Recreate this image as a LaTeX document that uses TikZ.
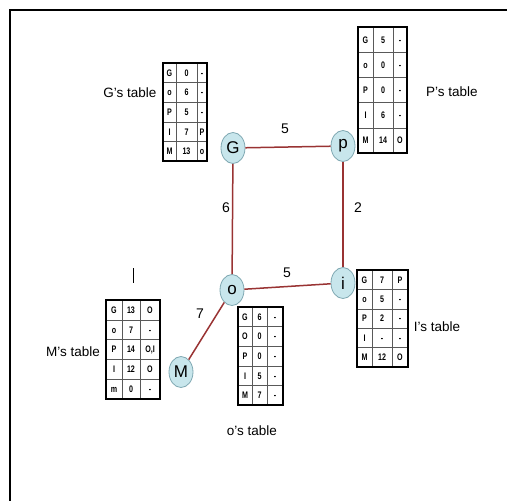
\documentclass[tikz,border=0pt]{standalone}
\usepackage{fontspec}
\setmainfont{Liberation Sans}
\newfontfamily\narrowfont[FakeStretch=0.75]{Liberation Sans}
\usetikzlibrary{shapes.geometric}
\definecolor{edgered}{HTML}{993333}
\definecolor{nodefill}{HTML}{C8E6EC}
\definecolor{nodeline}{HTML}{7FA8B2}
\tikzset{
  router/.style={ellipse, draw=nodeline, fill=nodefill, line width=0.8pt, minimum width=24pt, minimum height=31pt, inner sep=0pt, font=\fontsize{17}{17}\selectfont},
  link/.style={draw=edgered, line width=1.5pt},
  wlabel/.style={font=\fontsize{14}{14}\selectfont, inner sep=0pt},
  tlabel/.style={font=\fontsize{13.5}{13.5}\selectfont, inner sep=0pt},
  cell/.style={font=\narrowfont\fontsize{9.5}{9.5}\selectfont\bfseries, inner sep=0pt, text height=6.8pt, text depth=0pt},
}
\newcommand\rtab[8]{%
  \begin{scope}[shift={(#2,#3)}]
    \foreach \ca/\cb/\cc [count=\i] in {#8} {
      \node[cell] (#1-\i-a) at ({#4/2},{(\i-0.5)*#7}) {\ca};
      \node[cell] (#1-\i-b) at ({#4+#5/2},{(\i-0.5)*#7}) {\cb};
      \node[cell] (#1-\i-c) at ({#4+#5+#6/2},{(\i-0.5)*#7}) {\cc};
    }
    \foreach \k in {1,2,3,4} {\draw[gray!70!black, line width=0.5pt] (0,{\k*#7}) -- ({#4+#5+#6},{\k*#7});}
    \draw[gray!70!black, line width=0.5pt] (#4,0) -- (#4,{5*#7}) ({#4+#5},0) -- ({#4+#5},{5*#7});
    \draw[line width=1.8pt] (0,0) rectangle ({#4+#5+#6},{5*#7});
  \end{scope}}
\begin{document}
\begin{tikzpicture}[x=1pt,y=-1pt]
\useasboundingbox (0,0) rectangle (507,501);
\fill[white] (0,0) rectangle (507,501);
% frame
\draw[line width=2.5pt] (10,520) -- (10,10) -- (520,10);
% routers
\node[router] (G) at (233,148) {G};
\node[router] (p) at (343,146) {p};
\node[router] (o) at (232,290) {o};
\node[router] (i) at (343,283) {i};
\node[router] (M) at (181,372) {M};
% links
\draw[link] (G) -- (p);
\draw[link] (G) -- (o);
\draw[link] (p) -- (i);
\draw[link] (o) -- (i);
\draw[link] (o) -- (M);
% weights
\node[wlabel] (w1) at (285,129) {5};
\node[wlabel] (w2) at (226,208) {6};
\node[wlabel] (w3) at (358,208) {2};
\node[wlabel] (w4) at (287,273) {5};
\node[wlabel] (w5) at (200,314) {7};
% tables
\rtab{tG}{163}{63}{13}{21}{10}{19.6}{G/0/-, o/6/-, P/5/-, I/7/P, M/13/o}
\rtab{tP}{358}{27}{15}{20}{14}{25.2}{G/5/-, o/0/-, P/0/-, I/6/-, M/14/O}
\rtab{tI}{357}{270}{15}{20}{16}{19.4}{G/7/P, o/5/-, P/2/-, I/-/-, M/12/O}
\rtab{tM}{106}{300}{16}{18}{20}{19.8}{G/13/O, o/7/-, P/14/{O,I}, I/12/O, m/0/-}
\rtab{tO}{238}{307}{14}{15}{16}{19.6}{G/6/-, O/0/-, P/0/-, I/5/-, M/7/-}
% table labels
\node[tlabel] (lG) at (130,93) {G’s table};
\node[tlabel] (lP) at (452,92) {P’s table};
\node[tlabel] (lI) at (437,327) {I’s table};
\node[tlabel] (lM) at (73,352) {M’s table};
\node[tlabel] (lO) at (252,431) {o’s table};
% stray tick
\draw[line width=0.6pt] (133,268) -- (133,283);
\end{tikzpicture}
\end{document}
